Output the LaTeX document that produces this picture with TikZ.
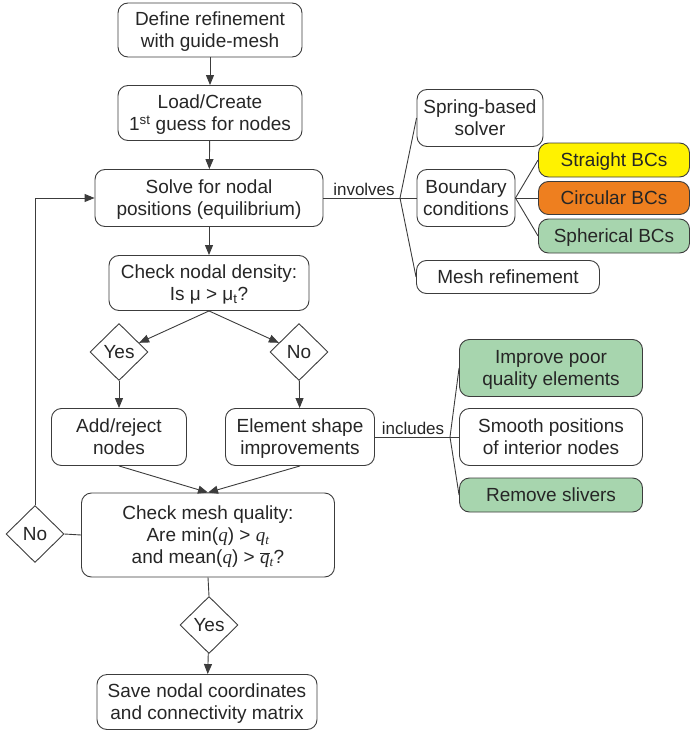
\documentclass[tikz,border=0pt]{standalone}
\usepackage{fontspec}
\setmainfont{Liberation Sans}
\newfontfamily\qfont{Liberation Serif}
\usetikzlibrary{shapes.geometric,arrows.meta}
\definecolor{txtcol}{HTML}{262626}
\definecolor{lncol}{HTML}{3C3C3C}
\definecolor{ylw}{HTML}{FFF200}
\definecolor{orng}{HTML}{EE7F1F}
\definecolor{grn}{HTML}{A7D5AE}
\newcommand{\qv}{{\qfont\itshape q}}
\newcommand{\qsub}{\textsubscript{\qfont\itshape t}}
\begin{document}
\begin{tikzpicture}[x=1pt,y=-1pt,
  every node/.style={font=\fontsize{19}{22}\selectfont, text=txtcol},
  box/.style={draw=lncol, rounded corners=10pt, align=center, inner sep=0pt, line width=0.9pt, text depth=0pt},
  dia/.style={draw=lncol, diamond, inner sep=0pt, minimum width=58pt, minimum height=57pt, line width=0.9pt},
  conn/.style={draw=lncol, line width=0.9pt},
  arr/.style={conn, -{Triangle[length=10pt,width=8pt]}},
  lbl/.style={font=\fontsize{17}{20}\selectfont, inner sep=0pt}
]
\useasboundingbox (0,0) rectangle (689,733);

% main column
\node[box, minimum width=184pt, minimum height=54pt] (def) at (210,30) {Define refinement\\with guide-mesh};
\node[box, minimum width=184pt, minimum height=55pt] (load) at (210,113) {Load/Create\\1\textsuperscript{st} guess for nodes};
\node[box, minimum width=228pt, minimum height=57pt] (solve) at (209,198) {Solve for nodal\\positions (equilibrium)};
\node[box, minimum width=200pt, minimum height=55pt] (dens) at (209,283) {Check nodal density:\\Is μ > μ\textsubscript{t}?};
\node[dia] (yes1) at (119,352) {Yes};
\node[dia] (no1) at (299,352) {No};
\node[box, minimum width=135pt, minimum height=57pt] (add) at (119,437) {Add/reject\\nodes};
\node[box, minimum width=149pt, minimum height=57pt] (elem) at (300,437) {Element shape\\improvements};
\node[box, minimum width=253pt, minimum height=84pt] (qual) at (208,535) {Check mesh quality:\\Are min(\qv) > \qv\qsub\\and mean(\qv) > $\overline{\hbox{\qv}}$\qsub?};
\node[dia] (no2) at (35,534) {No};
\node[dia] (yes2) at (209,625) {Yes};
\node[box, minimum width=220pt, minimum height=55pt] (save) at (207,702) {Save nodal coordinates\\and connectivity matrix};

% right side: involves
\node[box, minimum width=126pt, minimum height=57pt] (spring) at (480,118) {Spring-based\\solver};
\node[box, minimum width=98pt, minimum height=57pt] (bc) at (466,198) {Boundary\\conditions};
\node[box, fill=ylw, minimum width=151pt, minimum height=34pt] (str) at (614,160) {Straight BCs};
\node[box, fill=orng, minimum width=151pt, minimum height=33pt] (circ) at (614,198) {Circular BCs};
\node[box, fill=grn, minimum width=151pt, minimum height=34pt] (sph) at (614,236) {Spherical BCs};
\node[box, minimum width=183pt, minimum height=33pt] (mref) at (508,277) {Mesh refinement};

% right side: includes
\node[box, fill=grn, minimum width=183pt, minimum height=57pt] (impr) at (551,368) {Improve poor\\quality elements};
\node[box, minimum width=183pt, minimum height=57pt] (smooth) at (551,437) {Smooth positions\\of interior nodes};
\node[box, fill=grn, minimum width=183pt, minimum height=34pt] (sliv) at (551,495) {Remove slivers};

\coordinate (j1) at (400,198);
\coordinate (j3) at (450,437);

% main arrows
\draw[arr] (def) -- (load);
\draw[arr] (load) -- (solve);
\draw[arr] (solve) -- (dens);
\draw[arr] (dens.south) -- (yes1);
\draw[arr] (dens.south) -- (no1);
\draw[arr] (yes1) -- (add);
\draw[arr] (no1) -- (elem);
\draw[arr] (add.south) -- (qual.north);
\draw[arr] (elem.south) -- (qual.north);
\draw[conn] (qual.west) -- (no2.east);
\draw[arr] (no2.north) |- (solve.west);
\draw[conn] (qual.south) -- (yes2.north);
\draw[arr] (yes2) -- (save);

% involves tree
\draw[conn] (solve.east) -- (j1);
\node[lbl] (inv) at (364,189) {involves};
\draw[conn] (j1) -- (spring.west);
\draw[conn] (j1) -- (bc.west);
\draw[conn] (j1) -- (mref.west);
\draw[conn] (bc.east) -- (str.west);
\draw[conn] (bc.east) -- (circ.west);
\draw[conn] (bc.east) -- (sph.west);

% includes tree
\draw[conn] (elem.east) -- (j3);
\node[lbl] (inc) at (413,428) {includes};
\draw[conn] (j3) -- (impr.west);
\draw[conn] (j3) -- (smooth.west);
\draw[conn] (j3) -- (sliv.west);
\end{tikzpicture}
\end{document}
